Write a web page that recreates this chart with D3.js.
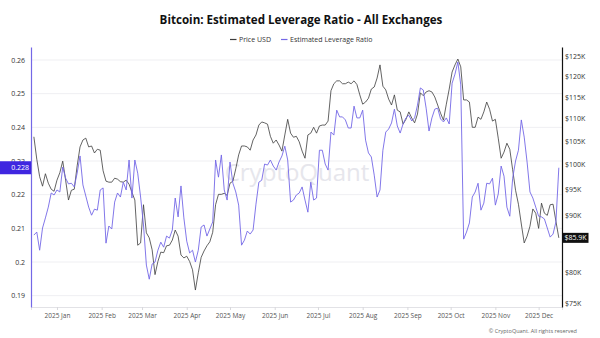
<!DOCTYPE html>
<html>
<head>
<meta charset="utf-8">
<script src="https://cdn.jsdelivr.net/npm/d3@7"></script>
<style>
  body { margin: 0; background: #fff; }
  svg { display: block; font-family: "Open Sans", sans-serif; }
</style>
</head>
<body>
<svg id="chart"></svg>
<script>
const width = 600;
const height = 338;

// one reading every two days, starting 2024-12-16
const firstDay = '2024-12-16';
const stepDays = 2;

// BTC price, thousands of USD
const priceUsdK = [
  105.9, 101.1, 97.5, 95.6, 98.1, 96.2, 95.0, 94.6, 96.8, 98.3,
  100.7, 96.8, 92.9, 94.8, 95.0, 99.7, 103.7, 105.2, 105.6, 103.7,
  103.9, 102.4, 103.2, 103.0, 98.7, 96.6, 96.4, 96.4, 97.2, 97.0,
  96.5, 96.4, 96.8, 96.0, 94.4, 92.9, 84.6, 85.0, 92.0, 86.8,
  85.9, 83.8, 79.6, 81.8, 83.4, 83.3, 84.5, 84.6, 85.5, 87.3,
  86.2, 82.9, 82.4, 82.7, 81.8, 80.4, 77.1, 79.9, 82.5, 83.6,
  84.5, 85.2, 86.9, 92.0, 94.0, 94.0, 94.2, 93.8, 96.2, 96.6,
  99.1, 102.0, 103.9, 103.9, 103.7, 103.0, 105.2, 106.3, 108.5, 109.2,
  109.0, 108.7, 106.0, 104.5, 105.2, 104.1, 102.8, 106.3, 109.8, 106.7,
  105.8, 106.0, 104.8, 102.8, 101.3, 106.3, 106.7, 108.0, 106.7, 108.3,
  108.5, 108.5, 109.4, 116.5, 118.2, 118.9, 118.9, 118.2, 118.2, 118.6,
  118.2, 118.9, 118.0, 115.5, 113.3, 113.8, 114.7, 116.9, 117.4, 119.6,
  122.9, 117.6, 116.7, 114.5, 113.1, 115.5, 111.9, 111.5, 108.7, 109.8,
  111.5, 110.1, 109.0, 111.0, 116.0, 115.3, 116.2, 116.5, 116.2, 115.0,
  113.1, 111.2, 109.6, 113.3, 116.9, 121.1, 122.9, 124.4, 122.4, 114.3,
  114.3, 113.8, 108.0, 108.0, 110.3, 109.8, 111.5, 113.8, 112.1, 109.4,
  109.8, 105.6, 101.3, 102.6, 104.5, 103.2, 98.9, 94.8, 92.1, 88.4,
  85.0, 86.2, 88.0, 91.2, 90.4, 87.6, 92.3, 90.4, 90.0, 92.0,
  92.1, 88.9, 85.9
];

// estimated leverage ratio, all exchanges
const leverageRatio = [
  0.2080, 0.2089, 0.2035, 0.2101, 0.2131, 0.2163, 0.2205, 0.2199, 0.2214, 0.2208,
  0.2282, 0.2249, 0.2232, 0.2234, 0.2223, 0.2264, 0.2315, 0.2229, 0.2196, 0.2163,
  0.2139, 0.2157, 0.2154, 0.2214, 0.2220, 0.2056, 0.2107, 0.2098, 0.2178, 0.2205,
  0.2193, 0.2237, 0.2214, 0.2303, 0.2190, 0.2303, 0.2264, 0.2193, 0.2110, 0.1991,
  0.1949, 0.1994, 0.2000, 0.2035, 0.2059, 0.2044, 0.2077, 0.2071, 0.2095, 0.2190,
  0.2134, 0.2226, 0.2131, 0.2062, 0.2027, 0.2035, 0.2000, 0.2035, 0.2104, 0.2110,
  0.2077, 0.2098, 0.2119, 0.2303, 0.2252, 0.2318, 0.2214, 0.2184, 0.2297, 0.2234,
  0.2208, 0.2169, 0.2050, 0.2065, 0.2092, 0.2083, 0.2095, 0.2172, 0.2237, 0.2243,
  0.2291, 0.2288, 0.2303, 0.2285, 0.2273, 0.2297, 0.2315, 0.2344, 0.2303, 0.2178,
  0.2184, 0.2199, 0.2205, 0.2223, 0.2184, 0.2148, 0.2237, 0.2184, 0.2190, 0.2332,
  0.2332, 0.2291, 0.2273, 0.2386, 0.2377, 0.2451, 0.2431, 0.2431, 0.2422, 0.2398,
  0.2398, 0.2463, 0.2428, 0.2428, 0.2451, 0.2362, 0.2324, 0.2312, 0.2258, 0.2193,
  0.2214, 0.2332, 0.2386, 0.2395, 0.2413, 0.2454, 0.2404, 0.2383, 0.2410, 0.2428,
  0.2436, 0.2419, 0.2428, 0.2466, 0.2517, 0.2511, 0.2457, 0.2389, 0.2428, 0.2454,
  0.2457, 0.2425, 0.2416, 0.2428, 0.2410, 0.2531, 0.2558, 0.2594, 0.2526, 0.2068,
  0.2089, 0.2116, 0.2193, 0.2208, 0.2234, 0.2154, 0.2175, 0.2234, 0.2232, 0.2249,
  0.2169, 0.2202, 0.2285, 0.2255, 0.2163, 0.2136, 0.2249, 0.2300, 0.2332, 0.2422,
  0.2371, 0.2297, 0.2208, 0.2190, 0.2163, 0.2136, 0.2134, 0.2128, 0.2101, 0.2074,
  0.2083, 0.2119, 0.2280
];

const leverageTicks = [0.19, 0.2, 0.21, 0.22, 0.23, 0.24, 0.25, 0.26];
// $85K sits under the last-price badge, so it is left out
const priceTicksK = [75, 80, 90, 95, 100, 105, 110, 115, 120, 125];
const monthTicks = [
  '2025-01-01', '2025-02-01', '2025-03-01', '2025-04-01', '2025-05-01', '2025-06-01',
  '2025-07-01', '2025-08-01', '2025-09-01', '2025-10-01', '2025-11-01', '2025-12-01'
];

const plot = { left: 31, right: 562, top: 47, bottom: 307 };
const priceColor = '#3c3c3c';
const leverageColor = '#7468e6';
const labelColor = '#333';

const start = d3.utcParse('%Y-%m-%d')(firstDay);
const dayAt = i => d3.utcDay.offset(start, i * stepDays);
const priceSeries = priceUsdK.map((v, i) => ({ date: dayAt(i), value: v }));
const leverageSeries = leverageRatio.map((v, i) => ({ date: dayAt(i), value: v }));

const x = d3.scaleUtc()
    .domain([Date.UTC(2024, 11, 14), Date.UTC(2025, 11, 17, 5)])
    .range([plot.left, plot.right]);

const yLev = d3.scaleLinear()
    .domain([0.18664, 0.26386])
    .range([plot.bottom, plot.top]);

const yPrice = d3.scaleLog()
    .domain([74.44, 127.54])
    .range([plot.bottom, plot.top]);

const svg = d3.select('#chart')
    .attr('width', width)
    .attr('height', height);

svg.append('rect')
    .attr('width', width)
    .attr('height', height)
    .attr('fill', '#fff');

// title + legend
svg.append('text')
    .attr('x', 301)
    .attr('y', 24)
    .attr('text-anchor', 'middle')
    .attr('font-size', 11.6)
    .attr('font-weight', 700)
    .attr('fill', '#111')
    .text('Bitcoin: Estimated Leverage Ratio - All Exchanges');

const legendItems = [
  { label: 'Price USD', color: priceColor, x: 230 },
  { label: 'Estimated Leverage Ratio', color: leverageColor, x: 281 }
];
const legend = svg.append('g').selectAll('g')
  .data(legendItems)
  .join('g')
    .attr('transform', d => `translate(${d.x},39.5)`);
legend.append('line')
    .attr('x1', 0).attr('x2', 6.5)
    .attr('stroke', d => d.color)
    .attr('stroke-width', 1.2);
legend.append('text')
    .attr('x', 9)
    .attr('dy', '0.35em')
    .attr('font-size', 7)
    .attr('fill', labelColor)
    .text(d => d.label);

// horizontal grid
svg.append('g')
  .selectAll('line')
  .data(leverageTicks)
  .join('line')
    .attr('x1', plot.left)
    .attr('x2', plot.right)
    .attr('y1', d => yLev(d))
    .attr('y2', d => yLev(d))
    .attr('stroke', '#efeff2')
    .attr('stroke-width', 1);

// watermark
svg.append('text')
    .attr('x', 297)
    .attr('y', 181)
    .attr('text-anchor', 'middle')
    .attr('font-size', 24)
    .attr('fill', '#e6e6ec')
    .text('CryptoQuant');

// x axis
const xAxis = svg.append('g')
    .attr('transform', `translate(0,${plot.bottom})`)
    .call(d3.axisBottom(x)
      .tickValues(monthTicks.map(d3.utcParse('%Y-%m-%d')))
      .tickFormat(d3.utcFormat('%Y %b'))
      .tickSize(3)
      .tickPadding(3));
xAxis.select('.domain').attr('stroke', '#e2e2e6');
xAxis.selectAll('.tick line').attr('stroke', '#d8d8dc');
xAxis.selectAll('.tick text')
    .attr('font-size', 6.5)
    .attr('font-family', '"Open Sans", sans-serif')
    .attr('fill', '#555');

// left axis (leverage)
const leftAxis = svg.append('g')
    .attr('transform', `translate(${plot.left},0)`)
    .call(d3.axisLeft(yLev)
      .tickValues(leverageTicks)
      .tickFormat(d => String(+d.toFixed(2)))
      .tickSize(0)
      .tickPadding(6));
leftAxis.select('.domain').attr('stroke', leverageColor).attr('stroke-width', 1.2);
leftAxis.selectAll('.tick text')
    .attr('font-size', 7)
    .attr('font-family', '"Open Sans", sans-serif')
    .attr('fill', labelColor);

// right axis (price, log)
const rightAxis = svg.append('g')
    .attr('transform', `translate(${plot.right},0)`)
    .call(d3.axisRight(yPrice)
      .tickValues(priceTicksK)
      .tickFormat(d => `$${d}K`)
      .tickSize(0)
      .tickPadding(3));
rightAxis.select('.domain').attr('stroke', '#111').attr('stroke-width', 1.2);
rightAxis.selectAll('.tick text')
    .attr('font-size', 7)
    .attr('font-family', '"Open Sans", sans-serif')
    .attr('fill', labelColor);

// series
const priceLine = d3.line()
    .x(d => x(d.date))
    .y(d => yPrice(d.value));
const leverageLine = d3.line()
    .x(d => x(d.date))
    .y(d => yLev(d.value));

svg.append('path')
    .datum(priceSeries)
    .attr('fill', 'none')
    .attr('stroke', priceColor)
    .attr('stroke-width', 0.8)
    .attr('stroke-linejoin', 'round')
    .attr('d', priceLine);

svg.append('path')
    .datum(leverageSeries)
    .attr('fill', 'none')
    .attr('stroke', leverageColor)
    .attr('stroke-width', 0.9)
    .attr('stroke-linejoin', 'round')
    .attr('d', leverageLine);

// last-value badges on both axes
const lastLev = leverageSeries[leverageSeries.length - 1].value;
const lastPrice = priceSeries[priceSeries.length - 1].value;

svg.append('rect')
    .attr('x', 0)
    .attr('y', yLev(lastLev) - 6.5)
    .attr('width', plot.left)
    .attr('height', 13)
    .attr('fill', '#3f26e0');
svg.append('text')
    .attr('x', 29)
    .attr('y', yLev(lastLev))
    .attr('dy', '0.35em')
    .attr('text-anchor', 'end')
    .attr('font-size', 7)
    .attr('fill', '#fff')
    .text(lastLev.toFixed(3));

svg.append('rect')
    .attr('x', plot.right + 0.5)
    .attr('y', yPrice(lastPrice) - 5)
    .attr('width', 26)
    .attr('height', 10)
    .attr('fill', '#111');
svg.append('text')
    .attr('x', plot.right + 2.5)
    .attr('y', yPrice(lastPrice))
    .attr('dy', '0.35em')
    .attr('font-size', 7)
    .attr('fill', '#fff')
    .text(`$${lastPrice.toFixed(1)}K`);

svg.append('text')
    .attr('x', 577)
    .attr('y', 333)
    .attr('text-anchor', 'end')
    .attr('font-size', 5.5)
    .attr('fill', '#666')
    .text('© CryptoQuant. All rights reserved');
</script>
</body>
</html>
